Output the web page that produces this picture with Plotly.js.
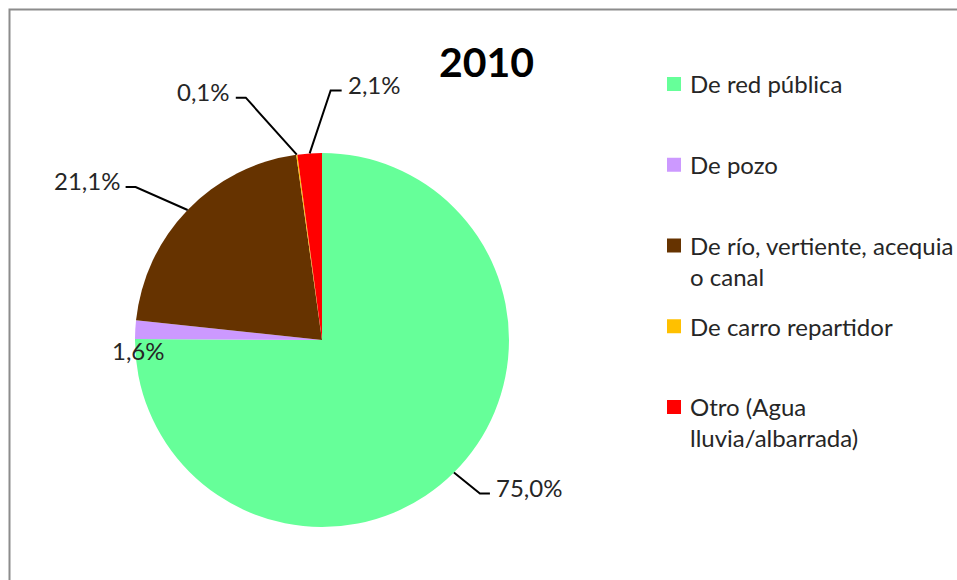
<!DOCTYPE html>
<html>
<head>
<meta charset="utf-8">
<script src="https://cdn.plot.ly/plotly-3.0.1.min.js"></script>
<style>html,body{margin:0;padding:0;background:#fff;}#chart{width:957px;height:580px;}</style>
</head>
<body>
<div id="chart"></div>
<script>
// ---- data ----
const chartTitle = "2010";
const categories = ["De red pública", "De pozo", "De río, vertiente, acequia o canal", "De carro repartidor", "Otro (Agua lluvia/albarrada)"];
const legendLabels = ["De red pública", "De pozo", "De río, vertiente, acequia<br>o canal", "De carro repartidor", "Otro (Agua<br>lluvia/albarrada)"];
const values = [75.0, 1.6, 21.1, 0.1, 2.1];
const colors = ["#66FF99", "#CC99FF", "#663300", "#FFC000", "#FF0000"];

// ---- layout geometry (pixels) ----
const W = 957, H = 580;
const cx = 322, cy = 340, R = 187;
const px = x => x / W, py = y => 1 - y / H;
// leader line geometry per slice: elbow offset from anchor, horizontal run
const labelGeom = [
  {line: true, ex: 26, ey: 21, hx: 10},
  {line: false, tx: 3, ty: 21},
  {line: true, ex: -52, ey: -23, hx: -10},
  {line: true, ex: -51, ey: -57, hx: -10},
  {line: true, ex: 21, ey: -63, hx: 11}
];
// legend geometry
const legSymX = 674, legTextX = 688, legFirstY = 84, legStep = 80.75, legSym = 14;
const fontFam = "Lato, 'Open Sans', 'DejaVu Sans', sans-serif";
const txtColor = "#262626";
const fontSize = 24;

const total = values.reduce((a, b) => a + b, 0);
const shapes = [];
const annotations = [];
let cum = 0;
values.forEach((v, i) => {
  const th = (cum + v / 2) / total * 2 * Math.PI;
  cum += v;
  const ax = cx + R * Math.sin(th), ay = cy - R * Math.cos(th);
  const g = labelGeom[i];
  const txt = v.toFixed(1).replace(".", ",") + "%";
  if (g.line) {
    const exx = ax + g.ex, eyy = ay + g.ey, hx = exx + g.hx;
    shapes.push({
      type: "path", xref: "paper", yref: "paper",
      path: `M ${px(ax)} ${py(ay)} L ${px(exx)} ${py(eyy)} L ${px(hx)} ${py(eyy)}`,
      line: {color: "#000000", width: 2}
    });
    const right = g.hx > 0;
    annotations.push({
      xref: "paper", yref: "paper", showarrow: false,
      x: px(hx + (right ? 4 : -4)), y: py(eyy - 6),
      xanchor: right ? "left" : "right", yanchor: "middle",
      text: txt, font: {family: fontFam, size: fontSize, color: txtColor}
    });
  } else {
    annotations.push({
      xref: "paper", yref: "paper", showarrow: false,
      x: px(ax + g.tx), y: py(ay + g.ty),
      xanchor: "center", yanchor: "middle",
      text: txt, font: {family: fontFam, size: fontSize, color: txtColor}
    });
  }
});

// legend (drawn as colour squares + text so the entry spacing matches)
legendLabels.forEach((lab, i) => {
  const yc = legFirstY + i * legStep;
  shapes.push({
    type: "rect", xref: "paper", yref: "paper",
    x0: px(legSymX - legSym / 2), x1: px(legSymX + legSym / 2),
    y0: py(yc - legSym / 2), y1: py(yc + legSym / 2),
    fillcolor: colors[i], line: {width: 0}
  });
  annotations.push({
    xref: "paper", yref: "paper", showarrow: false,
    x: px(legTextX), y: py(yc - fontSize * 1.3 / 2 - 1),
    xanchor: "left", yanchor: "top", align: "left",
    text: lab, font: {family: fontFam, size: fontSize, color: txtColor}
  });
});

annotations.push({
  xref: "paper", yref: "paper", showarrow: false,
  x: px(487), y: py(62), xanchor: "center", yanchor: "middle",
  text: "<b>" + chartTitle + "</b>",
  font: {family: fontFam, size: 41, color: "#000000"}
});

// outer chart border (extends past the right and bottom edges)
shapes.push({
  type: "rect", xref: "paper", yref: "paper",
  x0: px(9.5), y0: py(9.5), x1: 1.05, y1: -0.05,
  line: {color: "#8c8c8c", width: 2}, fillcolor: "rgba(0,0,0,0)", layer: "below"
});

const trace = {
  type: "pie",
  labels: categories,
  values: values,
  marker: {colors: colors, line: {width: 0}},
  sort: false,
  direction: "clockwise",
  rotation: 0,
  textinfo: "none",
  hoverinfo: "none",
  domain: {x: [px(cx - R), px(cx + R)], y: [py(cy + R), py(cy - R)]}
};

const layout = {
  width: W, height: H,
  margin: {l: 0, r: 0, t: 0, b: 0},
  paper_bgcolor: "#ffffff",
  showlegend: false,
  shapes: shapes,
  annotations: annotations
};

Plotly.newPlot("chart", [trace], layout, {displayModeBar: false, staticPlot: true});
</script>
</body>
</html>
